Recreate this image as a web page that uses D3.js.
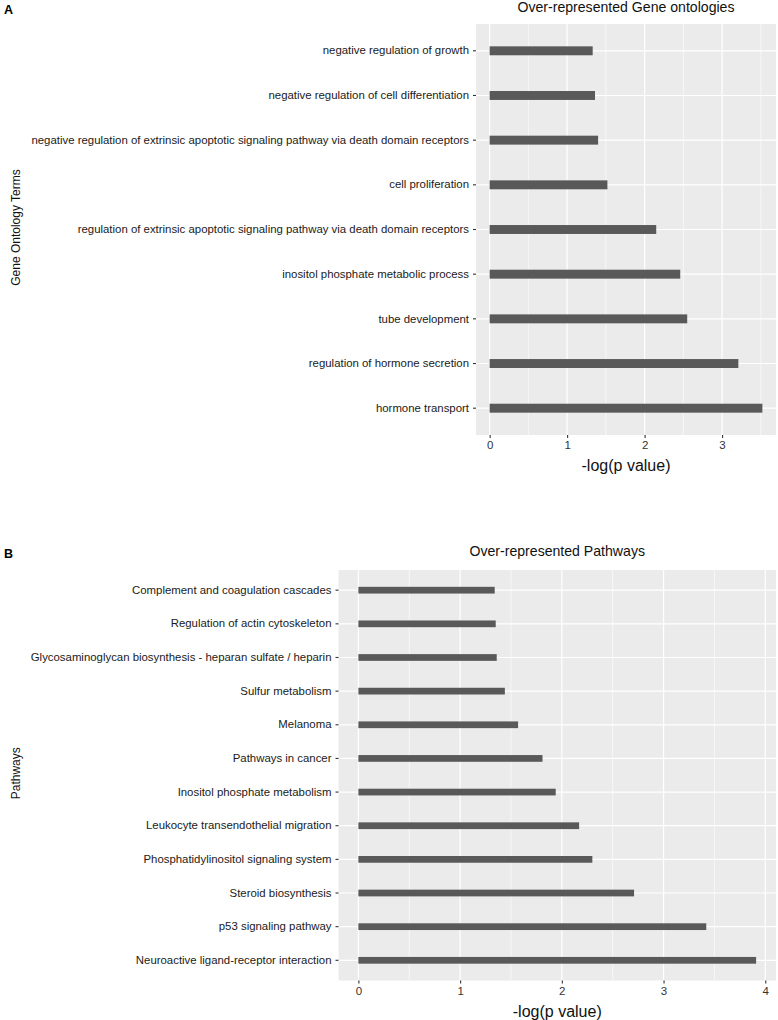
<!DOCTYPE html>
<html>
<head>
<meta charset="utf-8">
<script src="https://cdn.jsdelivr.net/npm/d3@7"></script>
<style>
  html, body { margin: 0; padding: 0; background: #fff; }
  svg { display: block; font-family: "Liberation Sans", Arial, Helvetica, sans-serif; }
</style>
</head>
<body>
<svg id="chart" width="778" height="1020"></svg>
<script>
// ---- Data ----
const goTerms = [
  "hormone transport",
  "regulation of hormone secretion",
  "tube development",
  "inositol phosphate metabolic process",
  "regulation of extrinsic apoptotic signaling pathway via death domain receptors",
  "cell proliferation",
  "negative regulation of extrinsic apoptotic signaling pathway via death domain receptors",
  "negative regulation of cell differentiation",
  "negative regulation of growth"
];
const goValues = [3.52, 3.21, 2.55, 2.46, 2.15, 1.52, 1.40, 1.36, 1.33];
const goTicks = [0, 1, 2, 3];

const pathways = [
  "Neuroactive ligand-receptor interaction",
  "p53 signaling pathway",
  "Steroid biosynthesis",
  "Phosphatidylinositol signaling system",
  "Leukocyte transendothelial migration",
  "Inositol phosphate metabolism",
  "Pathways in cancer",
  "Melanoma",
  "Sulfur metabolism",
  "Glycosaminoglycan biosynthesis - heparan sulfate / heparin",
  "Regulation of actin cytoskeleton",
  "Complement and coagulation cascades"
];
const pathwayValues = [3.91, 3.42, 2.71, 2.30, 2.17, 1.94, 1.81, 1.57, 1.44, 1.36, 1.35, 1.34];
const pathwayTicks = [0, 1, 2, 3, 4];

const svg = d3.select("#chart");

function drawPanel(cfg) {
  const { cats, vals, ticks, left, right, top, bottom, title, yTitle, letter, letterY, titleY } = cfg;
  const maxV = d3.max(vals);
  const x = d3.scaleLinear().domain([-0.05 * maxV, 1.05 * maxV]).range([left, right]);
  const y = d3.scaleBand().domain(cats.slice().reverse()).range([top, bottom])
    .paddingInner(0).paddingOuter(0.1);
  const g = svg.append("g");

  g.append("rect").attr("x", left).attr("y", top)
    .attr("width", right - left).attr("height", bottom - top).attr("fill", "#EBEBEB");

  const minor = [];
  for (let i = 0; i < ticks.length; i++) {
    const m = ticks[i] + 0.5;
    if (x(m) < right) minor.push(m);
  }
  if (x(ticks[0] - 0.5) > left) minor.push(ticks[0] - 0.5);
  g.selectAll(".minor").data(minor).join("line")
    .attr("x1", d => x(d)).attr("x2", d => x(d))
    .attr("y1", top).attr("y2", bottom)
    .attr("stroke", "#fff").attr("stroke-width", 0.6);

  g.selectAll(".majorx").data(ticks).join("line")
    .attr("x1", d => x(d)).attr("x2", d => x(d))
    .attr("y1", top).attr("y2", bottom)
    .attr("stroke", "#fff").attr("stroke-width", 1.2);

  g.selectAll(".majory").data(cats).join("line")
    .attr("x1", left).attr("x2", right)
    .attr("y1", d => y(d) + y.bandwidth() / 2).attr("y2", d => y(d) + y.bandwidth() / 2)
    .attr("stroke", "#fff").attr("stroke-width", 1.2);

  const bh = y.bandwidth() * 0.2;
  g.selectAll(".bar").data(cats).join("rect")
    .attr("x", x(0))
    .attr("y", (d) => y(d) + y.bandwidth() / 2 - bh / 2)
    .attr("width", (d, i) => x(vals[i]) - x(0))
    .attr("height", bh)
    .attr("fill", "#595959");

  const xAxis = d3.axisBottom(x).tickValues(ticks).tickSize(3).tickPadding(3).tickFormat(d3.format("d"));
  const xa = g.append("g").attr("transform", `translate(0,${bottom})`).call(xAxis);
  xa.select(".domain").remove();
  xa.selectAll(".tick line").attr("stroke", "#333").attr("stroke-width", 1.1);
  xa.selectAll(".tick text").attr("fill", "#333").attr("font-size", 11.5)
    .attr("font-family", "Liberation Sans, Arial, sans-serif");

  const yAxis = d3.axisLeft(y).tickSize(3).tickPadding(4);
  const ya = g.append("g").attr("transform", `translate(${left},0)`).call(yAxis);
  ya.select(".domain").remove();
  ya.selectAll(".tick line").attr("stroke", "#333").attr("stroke-width", 1.1);
  ya.selectAll(".tick text").attr("fill", "#1a1a1a").attr("font-size", 11.4)
    .attr("font-family", "Liberation Sans, Arial, sans-serif");

  g.append("text").attr("x", (left + right) / 2).attr("y", bottom + 36)
    .attr("text-anchor", "middle").attr("font-size", 16).attr("fill", "#111")
    .text("-log(p value)");

  g.append("text")
    .attr("transform", `translate(19.5,${(top + bottom) / 2 - 2}) rotate(-90)`)
    .attr("text-anchor", "middle").attr("font-size", 12).attr("fill", "#111")
    .text(yTitle);

  g.append("text").attr("x", (left + right) / 2).attr("y", titleY)
    .attr("text-anchor", "middle").attr("font-size", 14.1).attr("fill", "#111")
    .text(title);

  g.append("text").attr("x", 4).attr("y", letterY)
    .attr("font-size", 12.5).attr("font-weight", "bold").attr("fill", "#000")
    .text(letter);
}

drawPanel({
  cats: goTerms, vals: goValues, ticks: goTicks,
  left: 476, right: 776, top: 24, bottom: 435,
  title: "Over-represented Gene ontologies", yTitle: "Gene Ontology Terms",
  letter: "A", letterY: 14, titleY: 12
});

drawPanel({
  cats: pathways, vals: pathwayValues, ticks: pathwayTicks,
  left: 338.5, right: 776, top: 570, bottom: 980.5,
  title: "Over-represented Pathways", yTitle: "Pathways",
  letter: "B", letterY: 558, titleY: 556
});
</script>
</body>
</html>
